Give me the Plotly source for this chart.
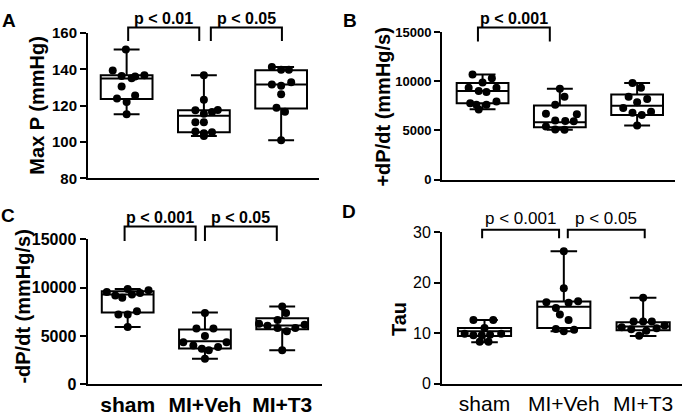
import plotly.graph_objects as go

W, H = 685, 418
groups = ["sham", "MI+Veh", "MI+T3"]
group_pos = [0, 1, 2]

# ---------------- Panel A: Max P (mmHg) ----------------
a_sham = [150.9, 139.3, 136.3, 135.1, 136.0, 136.7, 130.5, 123.9, 125.6, 122.0, 115.3]
a_veh = [136.7, 123.3, 117.4, 115.6, 116.5, 117.6, 110.9, 110.9, 105.8, 104.8, 105.3, 103.3]
a_t3 = [141.2, 139.8, 139.8, 131.6, 131.0, 132.9, 126.3, 118.8, 116.7, 100.9]
a_q1 = [123.7, 105.3, 118.4]
a_med = [134.9, 114.4, 131.6]
a_q3 = [136.7, 117.4, 139.5]
a_lo = [115.3, 103.3, 100.9]
a_hi = [150.9, 136.7, 141.2]

# ---------------- Panel B: +dP/dt (mmHg/s) ----------------
b_sham = [10690, 10300, 9872, 9327, 9000, 8900, 9327, 7770, 7605, 7605, 7930, 7119]
b_veh = [9230, 8420, 7605, 6700, 6650, 6000, 5950, 5920, 5400, 5100, 5075]
b_t3 = [9810, 9330, 8420, 8190, 7870, 7280, 6800, 6570, 6900, 5490]
b_q1 = [7770, 5330, 6570]
b_med = [9000, 5820, 7510]
b_q3 = [9814, 7540, 8640]
b_lo = [7150, 5075, 5490]
b_hi = [10690, 9230, 9810]

# ---------------- Panel C: -dP/dt (mmHg/s) ----------------
c_sham = [9857, 9560, 9205, 8970, 9300, 9462, 9727, 7226, 7226, 7553, 5940]
c_veh = [7385, 5773, 5773, 5010, 4358, 4020, 3695, 3527, 3857, 4358, 2640]
c_t3 = [8047, 7385, 6660, 6268, 6070, 5840, 5505, 5840, 6168, 3527]
c_q1 = [7424, 3725, 5700]
c_med = [9300, 4457, 6100]
c_q3 = [9630, 5673, 6830]
c_lo = [5940, 2640, 3527]
c_hi = [9857, 7424, 8047]

# ---------------- Panel D: Tau ----------------
d_sham = [12.6, 12.6, 11.04, 9.9, 9.6, 9.6, 9.7, 9.9, 8.3, 8.3]
d_veh = [26.2, 18.9, 16.1, 16.0, 16.3, 15.0, 13.7, 12.6, 10.85, 10.4, 10.7]
d_t3 = [17.0, 12.3, 12.3, 12.3, 11.2, 10.8, 9.5, 10.5, 11.0, 11.5]
d_q1 = [9.45, 11.04, 10.6]
d_med = [10.4, 15.25, 11.35]
d_q3 = [11.04, 16.26, 12.17]
d_lo = [8.2, 10.4, 9.45]
d_hi = [12.6, 26.2, 17.0]

# scatter spread (beeswarm offsets, category units)
a_sham_dx = [-0.01, -0.18, -0.065, 0.065, 0.11, 0.23, -0.065, -0.125, 0.11, 0, 0]
a_veh_dx = [0, 0, -0.11, 0, 0.105, 0.18, -0.11, 0, -0.11, 0, 0.105, 0]
a_t3_dx = [-0.12, 0, 0.10, -0.12, 0, 0.13, 0, -0.06, 0.05, 0]
b_sham_dx = [-0.13, 0.12, 0, -0.18, -0.05, 0.05, 0.18, -0.16, -0.08, 0.05, 0.18, -0.05]
b_veh_dx = [0, 0.06, -0.06, -0.18, 0.22, -0.06, 0.07, 0.18, -0.18, -0.06, 0.06]
b_t3_dx = [-0.06, 0.05, -0.11, 0.13, 0, -0.18, -0.06, 0.06, 0.18, 0]
c_sham_dx = [0, -0.27, -0.16, -0.07, 0.055, 0.16, 0.27, -0.12, 0.0, 0.12, 0]
c_veh_dx = [0, -0.11, 0.11, 0, -0.28, -0.15, -0.04, 0.05, 0.17, 0.28, 0]
c_t3_dx = [0, 0.05, -0.06, -0.3, -0.19, -0.06, 0.06, 0.17, 0.29, 0]
d_sham_dx = [-0.14, 0.11, 0, -0.25, -0.14, -0.035, 0.07, 0.21, -0.06, 0.05]
d_veh_dx = [0, 0, -0.22, 0.06, 0.18, -0.1, -0.05, 0.06, -0.1, 0, 0.13]
d_t3_dx = [0, -0.12, 0, 0.11, -0.27, -0.15, -0.05, 0.04, 0.17, 0.27]

FONT = "Liberation Sans, Arial, sans-serif"


def px_x(x):
    return x / W


def px_y(y):
    return 1 - y / H


panels = [
    dict(letter="A", title="Max P (mmHg)", sets=[(a_sham, a_sham_dx), (a_veh, a_veh_dx), (a_t3, a_t3_dx)],
         stats=(a_q1, a_med, a_q3, a_lo, a_hi), yrange=[80, 160], dtick=20,
         xdom=(88, 319), ydom=(25, 177), xr=[-0.5, 2.49], bold=True, tickfs=15, showx=False,
         brackets=[(0.02, 0.94, "p < 0.01"), (1.09, 2.01, "p < 0.05")], btop=1.0375, bleg=0.945, btext=1.099,
         title_xy=(37, 101), letter_xy=(9, 12)),
    dict(letter="B", title="+dP/dt (mmHg/s)", sets=[(b_sham, b_sham_dx), (b_veh, b_veh_dx), (b_t3, b_t3_dx)],
         stats=(b_q1, b_med, b_q3, b_lo, b_hi), yrange=[0, 15000], dtick=5000,
         xdom=(442, 675), ydom=(24, 178.3), xr=[-0.525, 2.49], bold=True, tickfs=13, showx=False,
         brackets=[(-0.06, 0.87, "p < 0.001")], btop=1.03, bleg=0.935, btext=1.091,
         title_xy=(383, 103), letter_xy=(350, 12)),
    dict(letter="C", title="-dP/dt (mmHg/s)", sets=[(c_sham, c_sham_dx), (c_veh, c_veh_dx), (c_t3, c_t3_dx)],
         stats=(c_q1, c_med, c_q3, c_lo, c_hi), yrange=[0, 15000], dtick=5000,
         xdom=(87.5, 322), ydom=(240.7, 392.3), xr=[-0.52, 2.515], bold=True, tickfs=16, showx=True,
         brackets=[(-0.04, 0.88, "p < 0.001"), (1.0, 1.93, "p < 0.05")], btop=1.088, bleg=0.989, btext=1.15,
         title_xy=(23, 311), letter_xy=(8, 216)),
    dict(letter="D", title="Tau", sets=[(d_sham, d_sham_dx), (d_veh, d_veh_dx), (d_t3, d_t3_dx)],
         stats=(d_q1, d_med, d_q3, d_lo, d_hi), yrange=[0, 30], dtick=10,
         xdom=(442, 682), ydom=(233, 391.7), xr=[-0.536, 2.49], bold=False, tickfs=16, showx=True,
         brackets=[(-0.03, 0.94, "p < 0.001"), (1.05, 2.02, "p < 0.05")], btop=1.0145, bleg=0.958, btext=1.086,
         title_xy=(399, 324), letter_xy=(349, 212)),
]

fig = go.Figure()
shapes = []
annotations = []
layout_axes = {}

for i, p in enumerate(panels):
    n = "" if i == 0 else str(i + 1)
    xa, ya = "x" + n, "y" + n
    weight = "bold" if p["bold"] else "normal"
    q1, med, q3, lo, hi = p["stats"]
    fig.add_trace(go.Box(
        x=group_pos, q1=q1, median=med, q3=q3, lowerfence=lo, upperfence=hi,
        width=0.67, whiskerwidth=0.5, boxpoints=False,
        fillcolor="rgba(255,255,255,0)", line=dict(color="black", width=2),
        xaxis=xa, yaxis=ya, showlegend=False, hoverinfo="skip"))
    for g, (vals, dx) in enumerate(p["sets"]):
        fig.add_trace(go.Scatter(
            x=[group_pos[g] + d for d in dx], y=vals, mode="markers",
            marker=dict(color="black", size=8),
            xaxis=xa, yaxis=ya, showlegend=False, hoverinfo="skip"))

    x0, x1 = p["xdom"]
    y0, y1 = p["ydom"]
    layout_axes["xaxis" + n] = dict(
        domain=[px_x(x0), px_x(x1)], anchor=ya, range=p["xr"], showgrid=False, zeroline=False,
        showline=True, linecolor="black", linewidth=2, ticks="",
        tickvals=group_pos, ticktext=groups, showticklabels=p["showx"],
        tickfont=dict(family=FONT, size=21, color="black", weight=weight), fixedrange=True)
    layout_axes["yaxis" + n] = dict(
        domain=[px_y(y1), px_y(y0)], anchor=xa, range=p["yrange"], dtick=p["dtick"], tick0=0,
        exponentformat="none", separatethousands=False, tickformat="d",
        showgrid=False, zeroline=False, showline=True, linecolor="black", linewidth=2,
        ticks="outside", ticklen=6, tickwidth=2, tickcolor="black",
        tickfont=dict(family=FONT, size=p["tickfs"], color="black", weight=weight), fixedrange=True)

    for (bx0, bx1, label) in p["brackets"]:
        shapes.append(dict(
            type="path", xref=xa, yref=ya + " domain",
            path=f"M {bx0},{p['bleg']} L {bx0},{p['btop']} L {bx1},{p['btop']} L {bx1},{p['bleg']}",
            line=dict(color="black", width=2)))
        annotations.append(dict(
            x=(bx0 + bx1) / 2, y=p["btext"], xref=xa, yref=ya + " domain", text=label,
            showarrow=False, xanchor="center", yanchor="middle",
            font=dict(family=FONT, size=16 if p["bold"] else 17, color="black", weight=weight)))

    tx, ty = p["title_xy"]
    annotations.append(dict(
        x=px_x(tx), y=px_y(ty), xref="paper", yref="paper", text=p["title"], textangle=-90,
        showarrow=False, xanchor="center", yanchor="middle",
        font=dict(family=FONT, size=20, color="black", weight="bold")))
    lx, ly = p["letter_xy"]
    annotations.append(dict(
        x=px_x(lx), y=px_y(ly), xref="paper", yref="paper", text=p["letter"],
        showarrow=False, xanchor="center", yanchor="middle",
        font=dict(family=FONT, size=19, color="black", weight="bold")))

fig.update_layout(
    width=W, height=H, margin=dict(l=0, r=0, t=0, b=0),
    paper_bgcolor="white", plot_bgcolor="white",
    shapes=shapes, annotations=annotations, **layout_axes)

fig.write_html("out.html", config={"displayModeBar": False},
               post_script="document.body.style.margin='0';")
